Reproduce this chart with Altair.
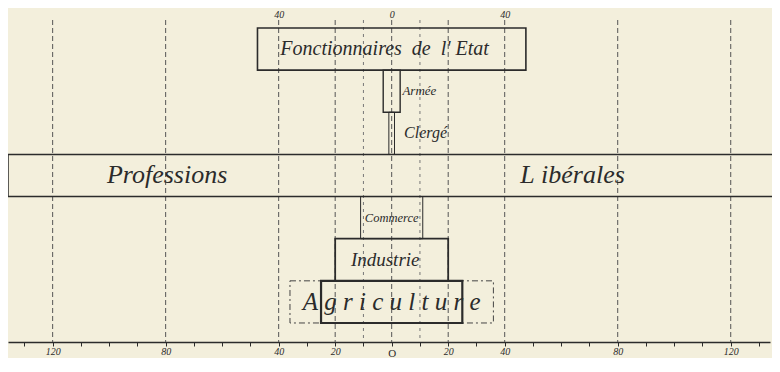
import altair as alt
import pandas as pd

# ---- data ----
categories = ["Fonctionnaires", "Armée", "Clergé", "Professions", "Commerce", "Industrie", "Agriculture"]
widths = [95, 6, 2, 271.6, 22, 40, 50]          # full width of each box (scale units)
agri_outer = [72]                                # dash-dot outer box for Agriculture
line_w = [1.6, 1.4, 1.0, 1.5, 1.0, 1.8, 2.2]

grid_major = [-120, -80, -40, -20, 0, 20, 40, 80, 120]
grid_minor = [-10, 10]
tick_values = list(range(-130, 131, 10))
bottom_labels = [-120, -80, -40, -20, 0, 20, 40, 80, 120]
top_labels = [-40, 0, 40]

NB = "\u00a0"
label_text = [f"Fonctionnaires{NB}{NB}de{NB}{NB}l'{NB}Etat", "Armée", "Clergé", "Professions", f"L{NB}ibérales",
              "Commerce", "Industrie", f"A{NB}g{NB}r{NB}i{NB}c{NB}u{NB}l{NB}t{NB}u{NB}r{NB}e"]
label_row = ["Fonctionnaires", "Armée", "Clergé", "Professions", "Professions",
             "Commerce", "Industrie", "Agriculture"]
label_x = [-2.5, 3.8, 4.4, -79.5, 64, 0, -2.3, 0]
label_size = [20, 13, 16, 26, 26, 12.5, 19, 25]
label_align = ["center", "left", "left", "center", "center", "center", "center", "center"]

FONT = "Liberation Serif"
INK = "#2b2b2b"
BG = "#f3efdc"
XDOM = [-135.8, 133.9]

xscale = alt.Scale(domain=XDOM, nice=False, zero=False)
yscale = alt.Scale(domain=categories, paddingInner=0, paddingOuter=0.3205, align=0.296)

bars = pd.DataFrame({"cat": categories, "w": widths, "sw": line_w})
outer = pd.DataFrame({"cat": ["Agriculture"], "w": agri_outer})
gmaj = pd.DataFrame({"v": grid_major})
gmin = pd.DataFrame({"v": grid_minor})
labels = pd.DataFrame({"t": label_text, "cat": label_row, "x": label_x,
                       "s": label_size, "a": label_align})

lab_list = ",".join(str(v) for v in bottom_labels)
zero_test = "datum.value == 0"
bottom_axis = alt.Axis(
    orient="bottom", values=tick_values, grid=False,
    labelExpr=f"indexof([{lab_list}], datum.value) < 0 ? '' : (datum.value == 0 ? 'O' : format(abs(datum.value), 'd'))",
    labelFont=FONT, labelColor=INK,
    labelFontStyle={"condition": {"test": zero_test, "value": "normal"}, "value": "italic"},
    labelFontSize={"condition": {"test": zero_test, "value": 11}, "value": 10},
    labelPadding={"condition": {"test": zero_test, "value": 1}, "value": 0},
    labelOverlap=False, labelFlush=False,
    domainColor=INK, domainWidth=1.3, tickColor=INK, tickSize=4, tickWidth=1,
    title=None,
)
top_axis = alt.Axis(
    orient="top", values=top_labels, grid=False, ticks=False, domain=False,
    labelExpr="format(abs(datum.value), 'd')",
    labelFont=FONT, labelFontStyle="italic", labelFontSize=10, labelColor=INK,
    labelPadding=1, title=None,
)

grid1 = alt.Chart(gmaj).mark_rule(color="#555", strokeWidth=1, strokeDash=[5, 3]).encode(
    x=alt.X("v:Q", scale=xscale, axis=bottom_axis)
)
grid2 = alt.Chart(gmin).mark_rule(color="#777", strokeWidth=1, strokeDash=[3, 4]).encode(
    x=alt.X("v:Q", scale=xscale, axis=top_axis)
)

rects = alt.Chart(bars).transform_calculate(
    x1="-datum.w/2", x2="datum.w/2"
).mark_rect(fill=BG, fillOpacity=0, stroke=INK).encode(
    x=alt.X("x1:Q", scale=xscale, axis=None),
    x2="x2:Q",
    y=alt.Y("cat:N", scale=yscale, axis=None, sort=categories),
    strokeWidth=alt.StrokeWidth("sw:Q", scale=None, legend=None),
)

outer_box = alt.Chart(outer).transform_calculate(
    x1="-datum.w/2", x2="datum.w/2"
).mark_rect(fillOpacity=0, stroke="#444", strokeWidth=1, strokeDash=[6, 3, 2, 3]).encode(
    x=alt.X("x1:Q", scale=xscale, axis=None),
    x2="x2:Q",
    y=alt.Y("cat:N", scale=yscale, axis=None, sort=categories),
)


def text_layer(align):
    return alt.Chart(labels).transform_filter(
        alt.datum.a == align
    ).mark_text(font=FONT, fontStyle="italic", color=INK, baseline="middle", align=align).encode(
        x=alt.X("x:Q", scale=xscale, axis=None),
        y=alt.Y("cat:N", scale=yscale, axis=None, sort=categories),
        text="t:N",
        size=alt.Size("s:Q", scale=None, legend=None),
    )


chart = alt.layer(grid1, grid2, outer_box, rects, text_layer("center"), text_layer("left")).resolve_axis(
    x="independent"
).properties(
    width=762, height=322,
    padding={"left": 0, "right": 2, "top": 12, "bottom": 16},
    autosize=alt.AutoSizeParams(type="none"),
    background=BG,
).configure_view(stroke=None)

chart.save("out.html", embed_options={"renderer": "svg", "actions": False})
